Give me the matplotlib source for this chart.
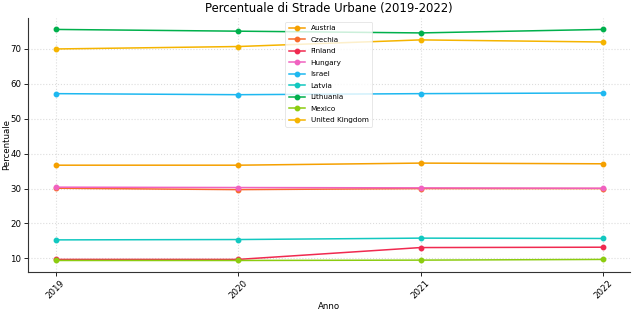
import numpy as np
import matplotlib.pyplot as plt

years = [2019, 2020, 2021, 2022]
countries = ['Austria', 'Czechia', 'Finland', 'Hungary', 'Israel',
             'Latvia', 'Lithuania', 'Mexico', 'United Kingdom']
austria = [36.7, 36.7, 37.3, 37.1]
czechia = [30.1, 29.7, 30.0, 30.0]
finland = [9.7, 9.7, 13.1, 13.2]
hungary = [30.4, 30.3, 30.2, 30.1]
israel = [57.2, 56.9, 57.2, 57.4]
latvia = [15.3, 15.4, 15.8, 15.7]
lithuania = [75.6, 75.1, 74.6, 75.6]
mexico = [9.4, 9.4, 9.5, 9.7]
united_kingdom = [70.0, 70.7, 72.6, 72.0]

series = [austria, czechia, finland, hungary, israel,
          latvia, lithuania, mexico, united_kingdom]
colors = ['#f5a000', '#f86b2c', '#f02a50', '#f062c0', '#1eb8f0',
          '#12c8c0', '#00b04c', '#8ccc10', '#f5b400']

fig, ax = plt.subplots(figsize=(6.4, 3.25), dpi=100)
fig.subplots_adjust(left=0.044, right=0.985, top=0.945, bottom=0.163)

for name, vals, c in zip(countries, series, colors):
    ax.plot(years, vals, marker='o', markersize=3.2, linewidth=1.1,
            color=c, label=name)

ax.set_title('Percentuale di Strade Urbane (2019-2022)', fontsize=8.4, pad=4)
ax.set_xlabel('Anno', fontsize=6.2, labelpad=1)
ax.set_ylabel('Percentuale', fontsize=6.2)
ax.yaxis.set_label_coords(-0.028, 0.5)
ax.set_xticks(years)
ax.set_xticklabels([str(y) for y in years], rotation=45)
ax.tick_params(labelsize=6.2, length=3, width=0.6, pad=2)
ax.grid(True, linestyle=':', color='#dddddd', linewidth=0.8)

for s in ['top', 'right']:
    ax.spines[s].set_visible(False)
for s in ['left', 'bottom']:
    ax.spines[s].set_linewidth(0.8)
    ax.spines[s].set_color('#333333')

leg = ax.legend(loc='upper center', fontsize=5.2, frameon=True,
                handlelength=2.2, labelspacing=0.75, borderpad=0.5,
                borderaxespad=0, bbox_to_anchor=(0.499, 0.985))
leg.get_frame().set_edgecolor('#dddddd')
leg.get_frame().set_linewidth(0.6)

fig.savefig('out.png', dpi=100)
